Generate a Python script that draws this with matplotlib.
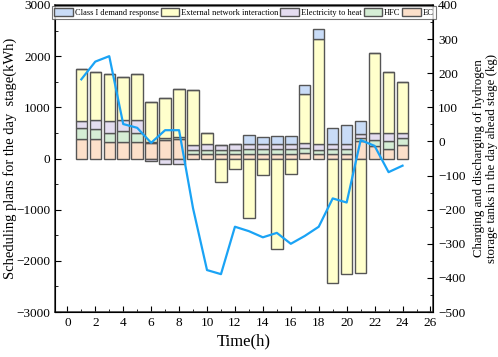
import numpy as np
import matplotlib
matplotlib.use('Agg')
import matplotlib.pyplot as plt
from matplotlib.ticker import MultipleLocator

plt.rcParams['font.family'] = ['Liberation Serif', 'DejaVu Serif']

hours = np.arange(1, 25)
ec = [390, 390, 326, 326, 326, 306, 358, 384, 85, 85, 85, 85, 95, 95, 95, 95, 117, 85, 90, 90, 350, 241, 195, 260]
hfc = [210, 196, 163, 215, 176, 20, 50, 40, 90, 91, 91, 91, 85, 85, 85, 85, 91, 91, 95, 95, 50, 117, 150, 144]
e2h = [137, 176, 247, 221, 260, -45, -98, -117, 98, 98, 91, 117, 100, 100, 100, 100, 98, 98, 108, 108, 80, 144, 157, 104]
ext = [1010, 938, 925, 827, 880, 781, 777, 944, 1062, 234, -465, -211, -1169, -329, -1775, -309, 964, 2058, -2440, -2257, -2231, 1569, 1192, 990]
dr = [0, 0, 0, 0, 0, 0, 0, 0, 0, 0, 0, 0, 182, 150, 163, 163, 157, 208, 300, 365, 256, 0, 0, 0]
h2_tank = [182, 234, 250, 51, 40, -4, 33, 33, -196, -377, -389, -250, -263, -281, -268, -300, -277, -250, -167, -179, 4, -13, -90, -71]

series = [
    ('EC', ec, '#FCE0CA'),
    ('HFC', hfc, '#D5EDD5'),
    ('Electricity to heat', e2h, '#E4DDF0'),
    ('External network interaction', ext, '#FFFFCC'),
    ('Class I demand response', dr, '#C9DCF7'),
]

fig = plt.figure(figsize=(4.98, 3.57), dpi=100)
ax = fig.add_axes([0.110, 0.126, 0.760, 0.860])

pos_bottom = np.zeros(24)
neg_bottom = np.zeros(24)
bars = {}
for name, vals, color in series:
    v = np.array(vals, dtype=float)
    bottom = np.where(v >= 0, pos_bottom, neg_bottom)
    bars[name] = ax.bar(hours, v, 0.82, bottom=bottom, color=color,
                        edgecolor='#555555', linewidth=1.0, label=name, zorder=2)
    pos_bottom += np.where(v > 0, v, 0)
    neg_bottom += np.where(v < 0, v, 0)

ax.set_xlim(-0.9, 26.2)
ax.set_ylim(-3000, 3000)
ax.xaxis.set_major_locator(MultipleLocator(2))
ax.xaxis.set_minor_locator(MultipleLocator(1))
ax.yaxis.set_major_locator(MultipleLocator(1000))
ax.yaxis.set_minor_locator(MultipleLocator(500))
ax.tick_params(which='both', direction='in', labelsize=9.5, top=False, right=False)
ax.tick_params(which='major', length=4)
ax.tick_params(which='minor', length=2)
ax.tick_params(axis='y', pad=3)
ax.set_xlabel('Time(h)', fontsize=12, labelpad=3)
ax.set_ylabel('Scheduling plans for the day  stage(kWh)', fontsize=10.5)
ax.yaxis.set_label_coords(-0.1, 0.5)
for s in ax.spines.values():
    s.set_linewidth(1.1)
    s.set_color('#333333')

ax2 = ax.twinx()
ax2.plot(hours, h2_tank, color='#1AA3F5', linewidth=1.6, zorder=5)
ax2.set_ylim(-500, 400)
ax2.yaxis.set_major_locator(MultipleLocator(100))
ax2.yaxis.set_minor_locator(MultipleLocator(50))
ax2.tick_params(which='both', direction='in', labelsize=9.5)
ax2.tick_params(which='major', length=4)
ax2.tick_params(which='minor', length=2)
ax2.set_ylabel('Charging and discharging of hydrogen\nstorage tanks in the day ahead stage (kg)',
               fontsize=9.3, labelpad=5)

labels = ['Class I demand response', 'External network interaction',
          'Electricity to heat', 'HFC', 'EC']
handles = [bars[n] for n in labels]
leg = ax2.legend(handles, labels, ncol=5, loc='upper center', bbox_to_anchor=(0.5, 1.0),
                 fontsize=6.0, frameon=True, fancybox=False, borderpad=0.25,
                 handlelength=2.2, handleheight=1.1, handletextpad=0.25, columnspacing=0.25,
                 borderaxespad=0.1)
leg.get_frame().set_edgecolor('#555555')
leg.get_frame().set_linewidth(0.8)

fig.savefig('out.png', dpi=100)
